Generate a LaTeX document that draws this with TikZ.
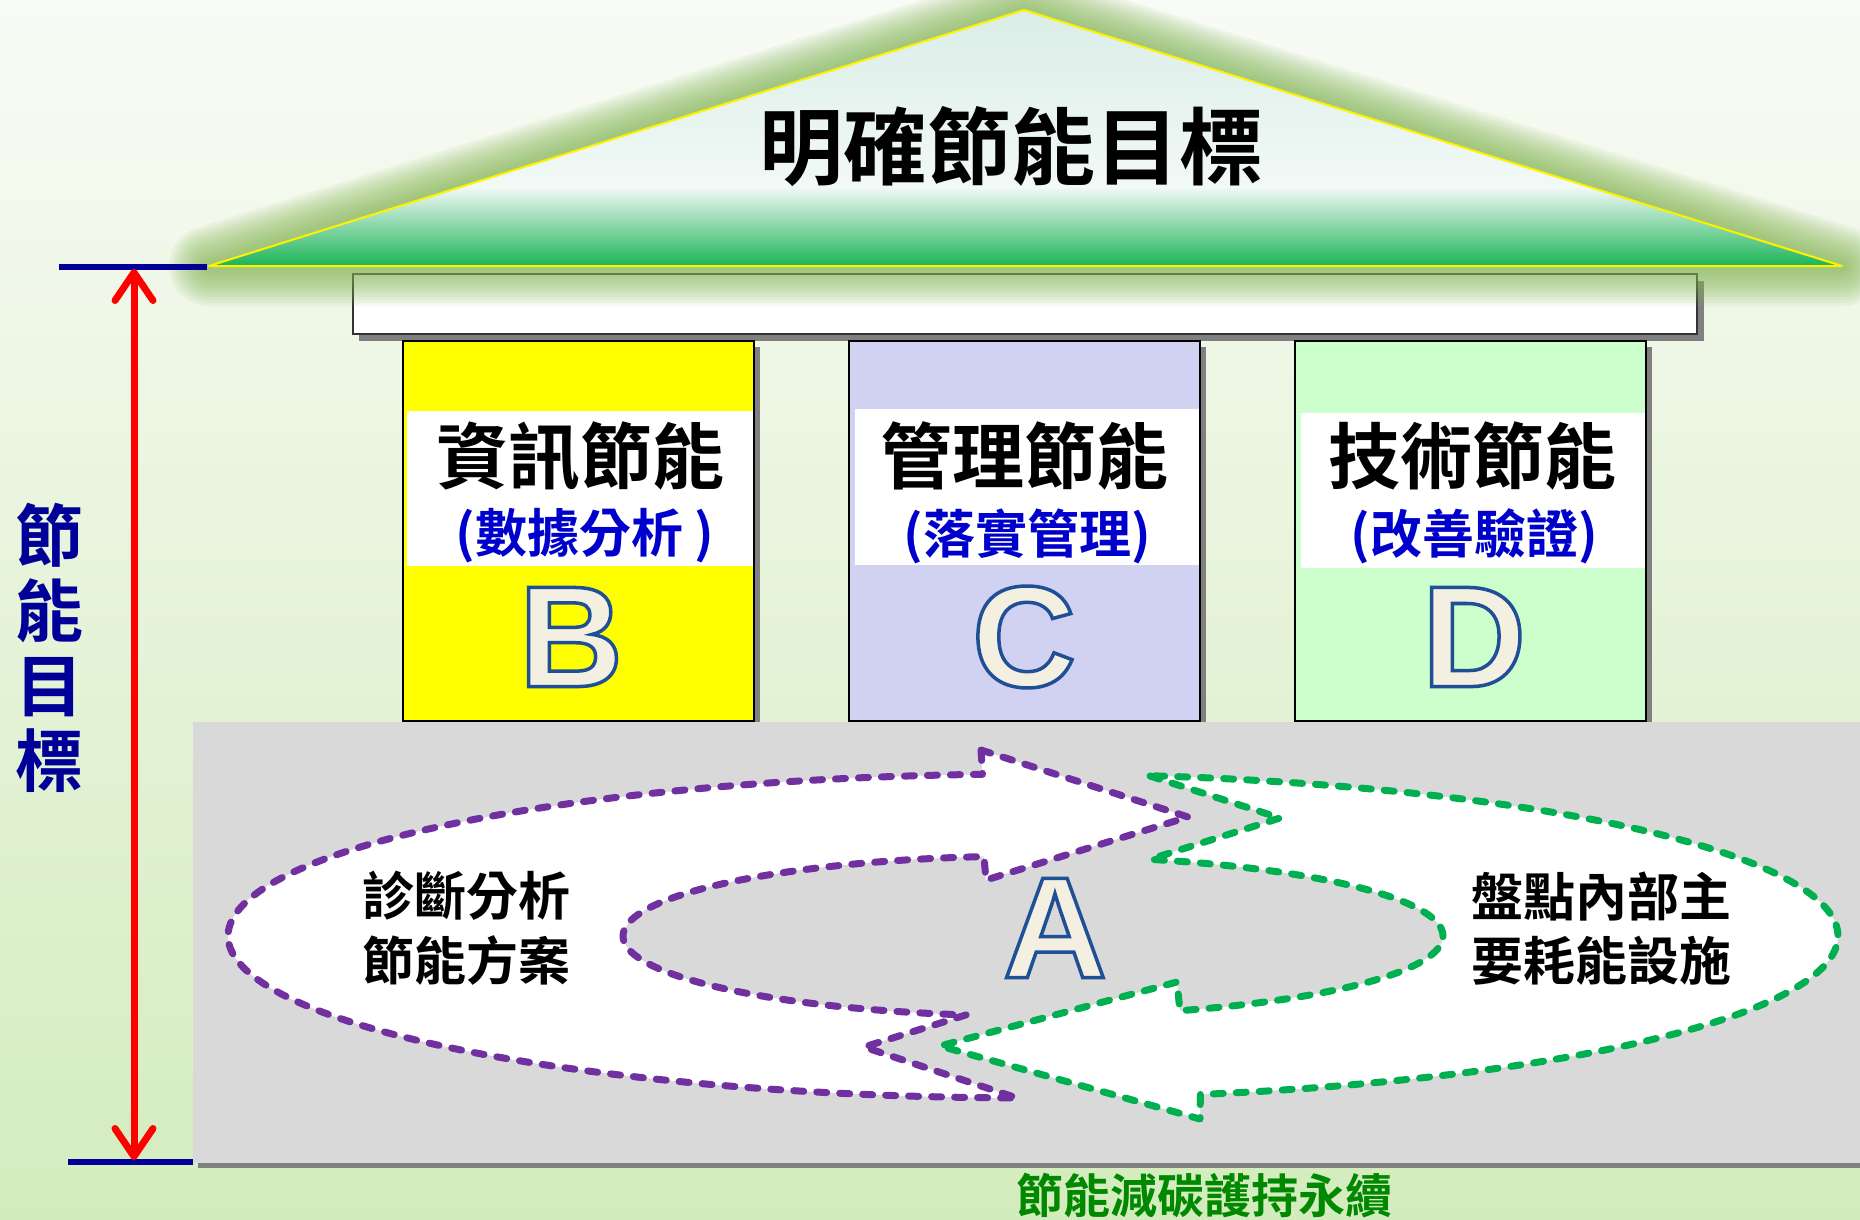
\documentclass[tikz,border=0pt]{standalone}
\usepackage{fontspec}
\usetikzlibrary{arrows.meta}
\newfontfamily\cjkb{Noto Sans CJK TC Bold}
\newfontfamily\latf{Liberation Sans Bold}
\definecolor{bgtop}{RGB}{249,251,246}
\definecolor{bgbot}{RGB}{211,236,189}
\definecolor{roofTop}{RGB}{218,237,231}
\definecolor{roofMid}{RGB}{242,249,246}
\definecolor{roofBot}{RGB}{22,178,84}
\definecolor{glowg}{RGB}{131,181,82}
\definecolor{navy}{RGB}{0,0,153}
\definecolor{subblue}{RGB}{0,0,204}
\definecolor{cyel}{RGB}{255,255,0}
\definecolor{clav}{RGB}{209,210,242}
\definecolor{cgrn}{RGB}{204,255,204}
\definecolor{shgrey}{RGB}{128,128,128}
\definecolor{basegrey}{RGB}{217,217,217}
\definecolor{cpurple}{RGB}{112,48,160}
\definecolor{cgreen}{RGB}{0,176,80}
\definecolor{slogan}{RGB}{0,136,0}
\definecolor{cream}{RGB}{243,239,225}
\newcommand{\outlined}[1]{{\color{cream}\special{pdf:literal direct 2 Tr 3.5 w 0.12 0.31 0.59 RG}#1\special{pdf:literal direct 0 Tr}}}
\begin{document}
\begin{tikzpicture}[x=1pt,y=-1pt,
  colframe/.style={draw=black, line width=2pt},
  dashp/.style={draw=cpurple, fill=white, line width=7pt, dash pattern=on 10pt off 13pt, line cap=round, line join=round},
  dashg/.style={draw=cgreen, fill=white, line width=7pt, dash pattern=on 10pt off 13pt, line cap=round, line join=round},
  titlef/.style={font={\cjkb\fontsize{84}{90}\selectfont}, inner sep=0pt},
  coltitle/.style={font={\cjkb\fontsize{72}{76}\selectfont}, inner sep=0pt, text=black},
  colsub/.style={font={\cjkb\fontsize{52}{56}\selectfont}, inner sep=0pt, text=subblue},
  cyctext/.style={font={\cjkb\fontsize{52}{56}\selectfont}, inner sep=0pt, text=black},
  letter/.style={font={\latf\fontsize{144}{150}\selectfont}, inner sep=0pt},
  glowline/.style={draw=glowg, line join=round, opacity=0.085}
]
\useasboundingbox (0,0) rectangle (1860,1220);
% background
\shade[top color=bgtop, bottom color=bgbot] (0,0) rectangle (1860,1220);

% beam
\fill[shgrey] (359,281) rectangle (1704,341);
\draw[fill=white, line width=2pt, draw=black!80] (353,274) rectangle (1697,334);

% columns
\fill[shgrey] (409,347) rectangle (760,722);
\fill[cyel] (403,341) rectangle (754,721);
\fill[white] (407,411) rectangle (754,566);
\draw[colframe] (403,341) rectangle (754,721);

\fill[shgrey] (855,347) rectangle (1206,722);
\fill[clav] (849,341) rectangle (1200,721);
\fill[white] (855,409) rectangle (1200,565);
\draw[colframe] (849,341) rectangle (1200,721);

\fill[shgrey] (1301,347) rectangle (1652,722);
\fill[cgrn] (1295,341) rectangle (1646,721);
\fill[white] (1301,413) rectangle (1646,568);
\draw[colframe] (1295,341) rectangle (1646,721);

% roof
\coordinate (apex) at (1024,10);
\coordinate (bl) at (209,266);
\coordinate (br) at (1842,266);
\foreach \w in {80,74,...,8}{
  \draw[glowline, line width=\w pt] (apex) -- (br) -- (bl) -- cycle;
}
\begin{scope}
  \clip (apex) -- (br) -- (bl) -- cycle;
  \shade[top color=roofTop, bottom color=roofMid] (200,8) rectangle (1850,188);
  \shade[top color=roofMid, bottom color=roofBot] (200,187) rectangle (1850,268);
\end{scope}
\draw[yellow, line width=2pt, line join=round] (apex) -- (br) -- (bl) -- cycle;
\node[titlef, text=black] (title) at (1011,147) {明確節能目標};

% base
\fill[basegrey] (193,722) rectangle (1860,1163);
\fill[shgrey] (198,1163) rectangle (1860,1168);

% column texts
\node[coltitle] (tB) at (580,456) {資訊節能};
\node[colsub] (sB) at (585,536) {(數據分析 )};
\node[coltitle] (tC) at (1024,456) {管理節能};
\node[colsub] (sC) at (1027,536) {(落實管理)};
\node[coltitle] (tD) at (1472,456) {技術節能};
\node[colsub] (sD) at (1474,536) {(改善驗證)};

\node[letter] (B) at (571,637) {\outlined{B}};
\node[letter] (C) at (1024,637) {\outlined{C}};
\node[letter] (D) at (1474,637) {\outlined{D}};

% cycle arrows
\path[dashp] (981,750) -- (1188,817) -- (986,880) -- (984,857)
  -- plot[domain=263.1:99.4, samples=90, variable=\t] ({1033+410*cos(\t)},{936+80*sin(\t)})
  -- (864,1047) -- (1017,1098)
  -- plot[domain=91.1:266.4, samples=140, variable=\t] ({1033+805*cos(\t)},{936+162*sin(\t)})
  -- cycle;
\path[dashg] (1150,776) -- (1280,818) -- (1151,859)
  -- plot[domain=286.7:429.0, samples=90, variable=\t] ({1033+410*cos(\t)},{936+80*sin(\t)})
  -- (1177,982) -- (940,1046) -- (1200,1119)
  -- plot[domain=438.0:278.4, samples=140, variable=\t] ({1033+805*cos(\t)},{936+162*sin(\t)})
  -- cycle;

\node[cyctext] (l1) at (466,896) {診斷分析};
\node[cyctext] (l2) at (466,960) {節能方案};
\node[cyctext] (r1) at (1601,897) {盤點內部主};
\node[cyctext] (r2) at (1601,961) {要耗能設施};
\node[letter] (A) at (1055,928) {\outlined{A}};

% left measure
\node[font={\cjkb\fontsize{68}{75}\selectfont}, text=navy, align=center, inner sep=0pt] (goal) at (50,648) {節\\能\\目\\標};
\draw[navy, line width=6pt] (59,267) -- (207,267);
\draw[navy, line width=6pt] (68,1162) -- (193,1162);
\coordinate (arrTop) at (134,269);
\coordinate (arrBot) at (134,1160);
\draw[red, line width=7pt, {Straight Barb[length=28pt,width=38pt,round]}-{Straight Barb[length=28pt,width=38pt,round]}] (arrTop) -- (arrBot);

\node[font={\cjkb\fontsize{47}{50}\selectfont}, text=slogan, inner sep=0pt] (slogantext) at (1204,1196) {節能減碳護持永續};
\end{tikzpicture}
\end{document}
